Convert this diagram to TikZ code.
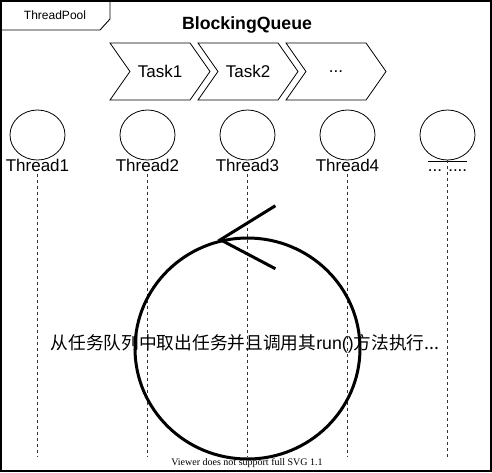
\documentclass[tikz,border=0pt]{standalone}
\usepackage{fontspec}
\setmainfont{Liberation Sans}
\newfontfamily\cjkfont{Noto Sans CJK SC}
\newfontfamily\svgnotefont{Liberation Serif}
\usetikzlibrary{positioning,shapes.geometric,shapes.symbols}

\begin{document}
\begin{tikzpicture}[
x=1pt,y=-1pt,
task/.style={draw,line width=0.8pt,signal,signal to=east,signal from=west,signal pointer angle=110,minimum width=100pt,minimum height=57pt,inner sep=0pt,font=\fontsize{17}{20}\selectfont},
thread/.style={draw,ellipse,minimum width=55pt,minimum height=50pt,inner sep=0pt,line width=0.8pt},
tname/.style={inner sep=0pt,text height=12.4pt,text depth=0pt,font=\fontsize{17}{20}\selectfont},
lifeline/.style={dash pattern=on 3pt off 3pt,line width=0.7pt,black!80},
loopline/.style={line width=3pt}
]
\useasboundingbox (0,0) rectangle (492,472);
\draw[line width=1.2pt] (1,1) rectangle (491,471);
% pool tab
\draw[line width=0.9pt] (1,30) -- (100,30) -- (110,19) -- (110,1);
\node[font=\fontsize{12}{14}\selectfont] (pool) at (55,15) {ThreadPool};
\node[font=\bfseries\fontsize{17.7}{20}\selectfont] (queue) at (247,25) {BlockingQueue};
% queue
\node[task] (task1) at (160,71.5) {Task1};
\node[task] (task2) at (248,71.5) {Task2};
\node[task] (task3) at (336,71.5) {...};
% threads
\node[thread] (t1) at (37.5,135) {};
\node[thread] (t2) at (147.5,135) {};
\node[thread] (t3) at (247.5,135) {};
\node[thread] (t4) at (347.5,135) {};
\node[thread] (t5) at (447.5,135) {};
\node[tname,below=-1.5pt of t1] (t1lbl) {Thread1};
\node[tname,below=-1.5pt of t2] (t2lbl) {Thread2};
\node[tname,below=-1.5pt of t3] (t3lbl) {Thread3};
\node[tname,below=-1.5pt of t4] (t4lbl) {Thread4};
\node[tname,below=-1.5pt of t5] (t5lbl) {... ....};
\draw[line width=0.8pt] ([yshift=-2pt]t5lbl.north west) -- ([yshift=-2pt]t5lbl.north east);
\coordinate (bot) at (0,457);
\draw[lifeline] ([yshift=-2pt]t1lbl.south) -- (t1lbl.south |- bot);
\draw[lifeline] ([yshift=-2pt]t2lbl.south) -- (t2lbl.south |- bot);
\draw[lifeline] ([yshift=-2pt]t3lbl.south) -- (t3lbl.south |- bot);
\draw[lifeline] ([yshift=-2pt]t4lbl.south) -- (t4lbl.south |- bot);
\draw[lifeline] (t5.south) -- (t5.south |- bot);
% polling loop
\node[draw,ellipse,loopline,minimum width=225pt,minimum height=221pt,inner sep=0pt] (loop) at (247.5,348.5) {};
\coordinate (tip) at (loop.104);
\draw[loopline] (tip) ++(55,-34) -- (tip) -- ++(55,29);
\node[font=\cjkfont\fontsize{17.7}{20}\selectfont] (work) at (245,344) {从任务队列中取出任务并且调用其{\rmfamily run()}方法执行...};
\node[font=\svgnotefont\fontsize{10}{12}\selectfont] (note) at (247,463) {Viewer does not support full SVG 1.1};
\end{tikzpicture}
\end{document}
